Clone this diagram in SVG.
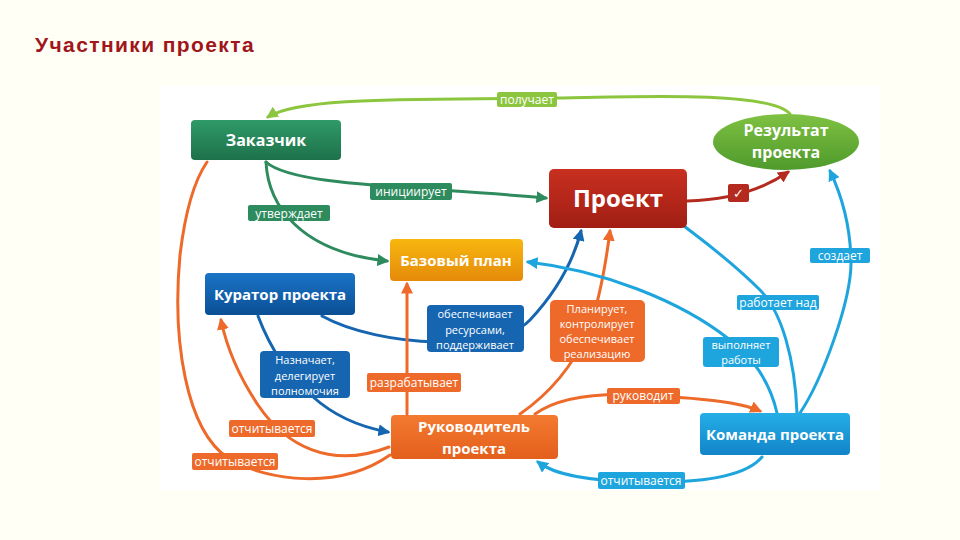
<svg xmlns="http://www.w3.org/2000/svg" width="960" height="540" viewBox="0 0 960 540">
<defs>
<style>
.title{font-family:"Liberation Sans",Arial,sans-serif;font-weight:700;font-size:21px;fill:#a0161c;letter-spacing:1.4px}
.nt{font-family:"Open Sans","Noto Sans",sans-serif;font-weight:700;fill:#fff;text-anchor:middle}
.lt{font-family:"Open Sans","Noto Sans",sans-serif;font-size:12px;fill:#fff;text-anchor:middle}
.ml{font-size:11px}
.c{fill:none;stroke-width:3;stroke-linecap:round}
.lime{stroke:#8cc63f}.green{stroke:#2e8b5e}.red{stroke:#b52a1f}.dblue{stroke:#1565b0}.orange{stroke:#ee6a2a}.lblue{stroke:#1ea5de}
</style>
<linearGradient id="gGreen" x1="0" y1="0" x2="0" y2="1"><stop offset="0" stop-color="#2f9a68"/><stop offset="1" stop-color="#1d714a"/></linearGradient>
<linearGradient id="gLime" x1="0" y1="0" x2="0" y2="1"><stop offset="0" stop-color="#7fc142"/><stop offset="1" stop-color="#4e9a2c"/></linearGradient>
<linearGradient id="gRed" x1="0" y1="0" x2="0" y2="1"><stop offset="0" stop-color="#c8301f"/><stop offset="1" stop-color="#a11e14"/></linearGradient>
<linearGradient id="gYel" x1="0" y1="0" x2="0" y2="1"><stop offset="0" stop-color="#f7b70f"/><stop offset="1" stop-color="#e58a0a"/></linearGradient>
<linearGradient id="gDBlue" x1="0" y1="0" x2="0" y2="1"><stop offset="0" stop-color="#1a74c6"/><stop offset="1" stop-color="#0b4f95"/></linearGradient>
<linearGradient id="gOr" x1="0" y1="0" x2="0" y2="1"><stop offset="0" stop-color="#f47a30"/><stop offset="1" stop-color="#e35f1c"/></linearGradient>
<linearGradient id="gLBlue" x1="0" y1="0" x2="0" y2="1"><stop offset="0" stop-color="#25aee6"/><stop offset="1" stop-color="#1284c8"/></linearGradient>
<marker id="aLime" viewBox="0 0 10 10" refX="8" refY="5" markerWidth="4" markerHeight="4" orient="auto"><path d="M0,0 L10,5 L0,10 z" fill="#8cc63f"/></marker>
<marker id="aGreen" viewBox="0 0 10 10" refX="8" refY="5" markerWidth="4" markerHeight="4" orient="auto"><path d="M0,0 L10,5 L0,10 z" fill="#2e8b5e"/></marker>
<marker id="aRed" viewBox="0 0 10 10" refX="8" refY="5" markerWidth="4" markerHeight="4" orient="auto"><path d="M0,0 L10,5 L0,10 z" fill="#b52a1f"/></marker>
<marker id="aDBlue" viewBox="0 0 10 10" refX="8" refY="5" markerWidth="4" markerHeight="4" orient="auto"><path d="M0,0 L10,5 L0,10 z" fill="#1565b0"/></marker>
<marker id="aOr" viewBox="0 0 10 10" refX="8" refY="5" markerWidth="4" markerHeight="4" orient="auto"><path d="M0,0 L10,5 L0,10 z" fill="#ee6a2a"/></marker>
<marker id="aLBlue" viewBox="0 0 10 10" refX="8" refY="5" markerWidth="4" markerHeight="4" orient="auto"><path d="M0,0 L10,5 L0,10 z" fill="#1ea5de"/></marker>
</defs>
<rect width="960" height="540" fill="#fffff5"/>
<rect x="160" y="85" width="720" height="405" fill="#ffffff"/>
<text class="title" x="35" y="52">Участники проекта</text>

<g id="connectors">
<path class="c lime" d="M790 114 C772 92 650 96 557 98 C420 100 300 96 268 117" marker-end="url(#aLime)"/>
<path class="c green" d="M266 162 C292 186 410 186 546 198" marker-end="url(#aGreen)"/>
<path class="c green" d="M266 162 C268 205 300 252 387 261" marker-end="url(#aGreen)"/>
<path class="c red" d="M687 201 C730 200 762 190 788 172" marker-end="url(#aRed)"/>
<path class="c dblue" d="M322 316 C380 348 500 352 530 320 C558 290 574 258 581 231" marker-end="url(#aDBlue)"/>
<path class="c dblue" d="M258 316 C270 348 292 382 312 396 C334 416 360 427 388 432" marker-end="url(#aDBlue)"/>
<path class="c orange" d="M407 414 L407 284" marker-end="url(#aOr)"/>
<path class="c orange" d="M520 414 C546 396 570 372 588 332 C600 300 606 262 610 231" marker-end="url(#aOr)"/>
<path class="c orange" d="M535 414 C560 396 600 393 640 395 C700 398 740 402 760 411" marker-end="url(#aOr)"/>
<path class="c lblue" d="M762 457 C742 481 682 483 640 482 C592 481 556 476 538 462" marker-end="url(#aLBlue)"/>
<path class="c orange" d="M389 447 C330 470 285 445 258 405 C236 372 226 344 221 320" marker-end="url(#aOr)"/>
<path class="c orange" d="M390 455 C340 490 268 482 228 458 C186 430 172 340 180 255 C186 205 196 178 207 162"/>
<path class="c lblue" d="M800 413 C822 380 852 300 851 260 C850 220 840 192 830 171" marker-end="url(#aLBlue)"/>
<path class="c lblue" d="M797 413 C795 360 782 312 760 290 C730 260 702 240 684 226"/>
<path class="c lblue" d="M777 413 C770 382 752 356 730 340 C680 300 600 270 528 262" marker-end="url(#aLBlue)"/>
</g>

<g id="labels">
<rect x="497" y="92" width="60" height="15" rx="2" fill="#8cc63f"/><text class="lt" x="527" y="104">получает</text>
<rect x="370" y="183" width="82" height="17" rx="2" fill="#2e8b5e"/><text class="lt" x="411" y="196">инициирует</text>
<rect x="248" y="205" width="82" height="16" rx="2" fill="#2e8b5e"/><text class="lt" x="289" y="218">утверждает</text>
<rect x="728" y="184" width="21" height="18" rx="2" fill="#b52a1f"/><text class="lt" x="738" y="198" style="font-size:13px">✓</text>
<rect x="810" y="248" width="60" height="15" rx="2" fill="#1ea5de"/><text class="lt" x="840" y="260">создает</text>
<rect x="737" y="295" width="82" height="15" rx="2" fill="#1ea5de"/><text class="lt" x="778" y="307">работает над</text>
<rect x="703" y="337" width="76" height="30" rx="3" fill="#1ea5de"/><text class="lt ml" x="741" y="349">выполняет</text><text class="lt ml" x="741" y="364">работы</text>
<rect x="427" y="305" width="97" height="47" rx="4" fill="#1565b0"/><text class="lt ml" x="475" y="318">обеспечивает</text><text class="lt ml" x="475" y="333.5">ресурсами,</text><text class="lt ml" x="475" y="349">поддерживает</text>
<rect x="260" y="351" width="90" height="47" rx="4" fill="#1565b0"/><text class="lt ml" x="305" y="364">Назначает,</text><text class="lt ml" x="305" y="379.5">делегирует</text><text class="lt ml" x="305" y="395">полномочия</text>
<rect x="550" y="300" width="95" height="62" rx="5" fill="#ee6a2a"/><text class="lt ml" x="597" y="313">Планирует,</text><text class="lt ml" x="597" y="328">контролирует</text><text class="lt ml" x="597" y="343">обеспечивает</text><text class="lt ml" x="597" y="358">реализацию</text>
<rect x="367" y="373" width="94" height="19" rx="2" fill="#ee6a2a"/><text class="lt" x="414" y="387">разрабатывает</text>
<rect x="229" y="420" width="86" height="17" rx="2" fill="#ee6a2a"/><text class="lt" x="272" y="433">отчитывается</text>
<rect x="192" y="453" width="86" height="17" rx="2" fill="#ee6a2a"/><text class="lt" x="235" y="466">отчитывается</text>
<rect x="607" y="388" width="73" height="16" rx="2" fill="#ee6a2a"/><text class="lt" x="643" y="400">руководит</text>
<rect x="598" y="472" width="87" height="17" rx="2" fill="#1ea5de"/><text class="lt" x="641" y="485">отчитывается</text>
</g>

<g id="node-zakazchik"><rect x="191" y="120" width="150" height="40" rx="4" fill="url(#gGreen)"/><text class="nt" x="266" y="146" font-size="16">Заказчик</text></g>
<g id="node-result"><ellipse cx="786" cy="142" rx="73" ry="28" fill="url(#gLime)"/><text class="nt" x="786" y="136" font-size="16">Результат</text><text class="nt" x="786" y="158" font-size="16">проекта</text></g>
<g id="node-proekt"><rect x="549" y="169" width="138" height="59" rx="5" fill="url(#gRed)"/><text class="nt" x="618" y="207" font-size="24">Проект</text></g>
<g id="node-bazplan"><rect x="390" y="239" width="133" height="42" rx="4" fill="url(#gYel)"/><text class="nt" x="456" y="266" font-size="15">Базовый план</text></g>
<g id="node-kurator"><rect x="205" y="273" width="150" height="42" rx="4" fill="url(#gDBlue)"/><text class="nt" x="280" y="300" font-size="15">Куратор проекта</text></g>
<g id="node-rukovoditel"><rect x="391" y="415" width="167" height="44" rx="4" fill="url(#gOr)"/><text class="nt" x="474" y="432" font-size="15">Руководитель</text><text class="nt" x="474" y="454" font-size="15">проекта</text></g>
<g id="node-komanda"><rect x="700" y="413" width="150" height="42" rx="4" fill="url(#gLBlue)"/><text class="nt" x="775" y="440" font-size="15">Команда проекта</text></g>
</svg>
